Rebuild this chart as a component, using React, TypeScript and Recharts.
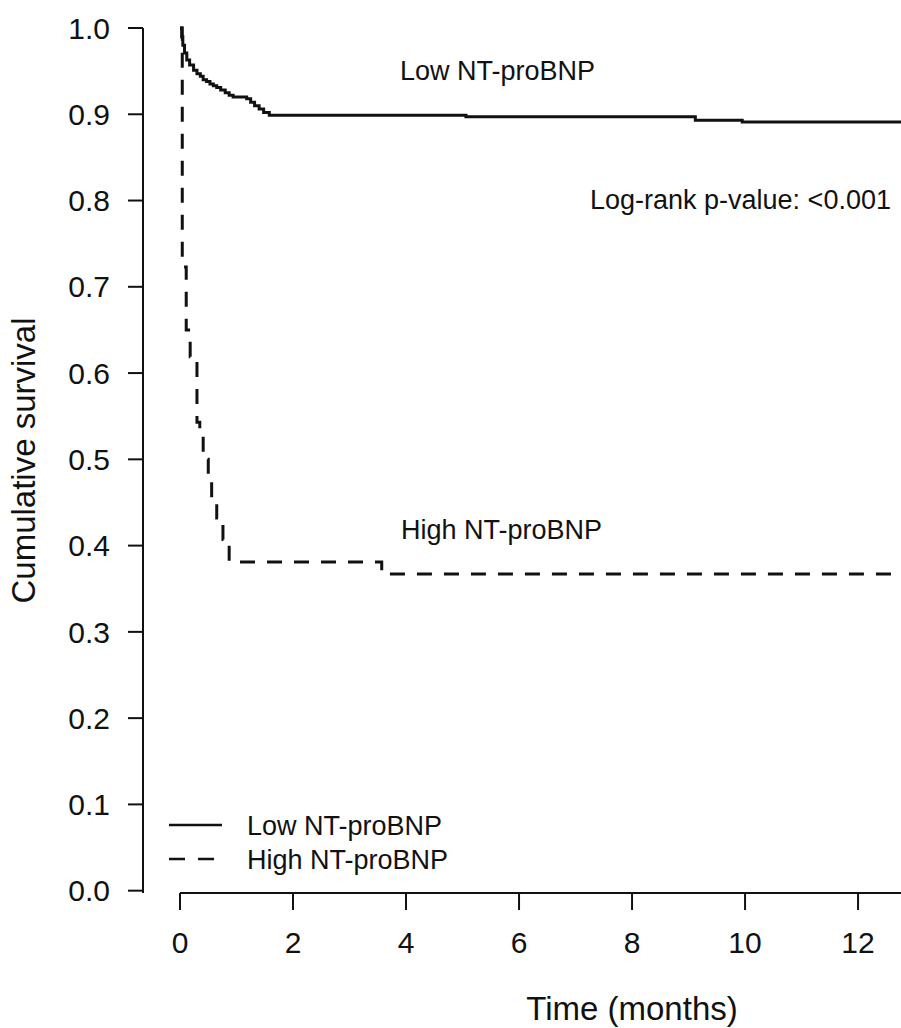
import React from 'react';
import { LineChart, Line, XAxis, YAxis, ReferenceLine, Legend } from 'recharts';

// ---- data ----
const lowTime = [0, 0.03, 0.05, 0.08, 0.12, 0.17, 0.24, 0.30, 0.36, 0.41, 0.47, 0.53, 0.59, 0.65, 0.72, 0.80, 0.87, 0.94, 1.18, 1.25, 1.32, 1.40, 1.48, 1.58, 5.06, 9.12, 9.95, 12.76];
const lowSurv = [1.0, 0.99, 0.98, 0.971, 0.963, 0.957, 0.951, 0.947, 0.944, 0.940, 0.938, 0.935, 0.933, 0.931, 0.928, 0.925, 0.922, 0.920, 0.918, 0.914, 0.910, 0.906, 0.902, 0.899, 0.897, 0.893, 0.891, 0.891];

const highTime = [0, 0.04, 0.11, 0.18, 0.30, 0.35, 0.41, 0.50, 0.56, 0.65, 0.76, 0.87, 3.57, 12.76];
const highSurv = [1.0, 0.723, 0.650, 0.619, 0.543, 0.531, 0.500, 0.479, 0.455, 0.432, 0.407, 0.381, 0.367, 0.367];

const xTicks = [0, 2, 4, 6, 8, 10, 12];
const yTicks = [0, 0.1, 0.2, 0.3, 0.4, 0.5, 0.6, 0.7, 0.8, 0.9, 1.0];
const seriesNames = ['Low NT-proBNP', 'High NT-proBNP'];
const xTitle = 'Time (months)';
const yTitle = 'Cumulative survival';
const pValueText = 'Log-rank p-value: <0.001';

// ---- styles ----
const X_DOMAIN: [number, number] = [-0.655, 12.76];
const Y_DOMAIN: [number, number] = [-0.0027, 1];
const FONT = '"Liberation Sans", Arial, Helvetica, sans-serif';
const INK = '#111';
const DASHES = [undefined, '15 12'];
const LEGEND_DASHES = [undefined, '16 13'];

const lowData = lowTime.map((t, i) => ({ t, s: lowSurv[i] }));
const highData = highTime.map((t, i) => ({ t, s: highSurv[i] }));
const seriesData = [lowData, highData];

const YTitle = (props: any) => {
  const vb = props.viewBox || { x: 0, y: 28, width: 143, height: 865 };
  const cy = vb.y + vb.height / 2;
  return (
    <text x={35} y={cy} transform={`rotate(-90 35 ${cy})`} textAnchor="middle" fontSize={33} fontFamily={FONT} fill={INK}>
      {yTitle}
    </text>
  );
};

const XTitle = () => (
  <text x={632} y={1020} textAnchor="middle" fontSize={33} fontFamily={FONT} fill={INK}>
    {xTitle}
  </text>
);

const renderLegend = () => (
  <svg width={320} height={80} style={{ overflow: 'visible' }}>
    {seriesNames.map((name, i) => (
      <g key={name}>
        <line x1={9} x2={62} y1={25 + i * 34} y2={25 + i * 34} stroke={INK} strokeWidth={2.5} strokeDasharray={LEGEND_DASHES[i]} />
        <text x={87} y={35 + i * 34} fontSize={27} fontFamily={FONT} fill={INK}>{name}</text>
      </g>
    ))}
  </svg>
);

export default function App() {
  return (
    <div style={{ position: 'absolute', left: 0, top: 0, width: 901, height: 1028, background: '#fff', fontFamily: FONT }}>
      <LineChart width={901} height={1028} margin={{ top: 28, right: 0, bottom: 0, left: 0 }}>
        <XAxis
          type="number"
          dataKey="t"
          domain={X_DOMAIN}
          ticks={xTicks}
          axisLine={false}
          tickLine={{ stroke: INK, strokeWidth: 2 }}
          tickSize={17}
          tickMargin={22}
          height={135}
          tick={{ fill: INK, fontSize: 30, fontFamily: FONT }}
          label={{ content: XTitle }}
        />
        <YAxis
          type="number"
          domain={Y_DOMAIN}
          ticks={yTicks}
          width={143}
          axisLine={{ stroke: INK, strokeWidth: 2 }}
          tickLine={{ stroke: INK, strokeWidth: 2 }}
          tickSize={15}
          tickMargin={18}
          tickFormatter={(v: number) => v.toFixed(1)}
          tick={{ fill: INK, fontSize: 30, fontFamily: FONT }}
          label={{ content: YTitle }}
        />
        <ReferenceLine
          segment={[{ x: 0, y: Y_DOMAIN[0] }, { x: X_DOMAIN[1], y: Y_DOMAIN[0] }]}
          stroke={INK}
          strokeWidth={2}
          ifOverflow="visible"
        />
        {seriesData.map((d, i) => (
          <Line
            key={seriesNames[i]}
            name={seriesNames[i]}
            data={d}
            dataKey="s"
            type="stepAfter"
            stroke={INK}
            strokeWidth={3}
            strokeDasharray={DASHES[i]}
            dot={false}
            activeDot={false}
            isAnimationActive={false}
          />
        ))}
        <Legend
          layout="horizontal"
          verticalAlign="middle"
          align="center"
          content={renderLegend}
          wrapperStyle={{ position: 'absolute', left: 160, top: 800, width: 320, height: 80 }}
        />
      </LineChart>
      <svg width={901} height={1028} style={{ position: 'absolute', left: 0, top: 0, pointerEvents: 'none' }}>
        <text x={400} y={80} fontSize={27} fontFamily={FONT} fill={INK}>{seriesNames[0]}</text>
        <text x={590} y={209} fontSize={27} fontFamily={FONT} fill={INK}>{pValueText}</text>
        <text x={401} y={539} fontSize={27} fontFamily={FONT} fill={INK}>{seriesNames[1]}</text>
      </svg>
    </div>
  );
}
